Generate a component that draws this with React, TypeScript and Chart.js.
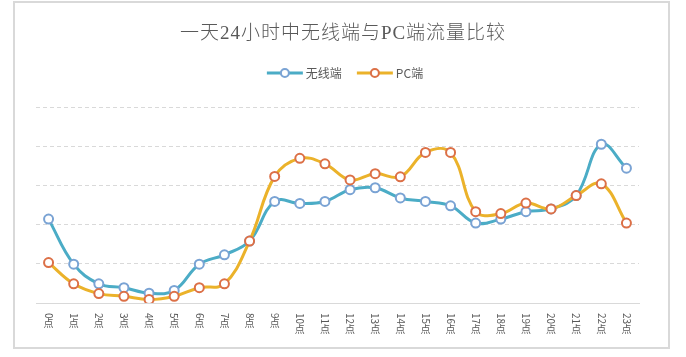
import React, { useEffect, useRef } from "react";
import { Chart, registerables } from "chart.js";

Chart.register(...registerables);

const categories = ["0点","1点","2点","3点","4点","5点","6点","7点","8点","9点","10点","11点","12点","13点","14点","15点","16点","17点","18点","19点","20点","21点","22点","23点"];
const wirelessValues = [2.14,0.99,0.49,0.39,0.25,0.32,0.99,1.23,1.58,2.59,2.54,2.59,2.89,2.94,2.68,2.59,2.48,2.04,2.14,2.33,2.4,2.74,4.05,3.44];
const pcValues = [1.03,0.49,0.24,0.17,0.09,0.17,0.39,0.49,1.58,3.23,3.69,3.55,3.14,3.3,3.22,3.84,3.84,2.33,2.28,2.55,2.4,2.74,3.04,2.04];
const seriesNames = ["无线端", "PC端"];
const titleText = "一天24小时中无线端与PC端流量比较";

const BLUE = "#4bacc6";
const BLUE_MARK = "#7aa3d4";
const GOLD = "#ebb22a";
const GOLD_MARK = "#dc7047";
const TEXT = "#595959";
const CJK = '"Noto Sans CJK SC", "Noto Sans", sans-serif';

const decorPlugin = {
  id: "decor",
  beforeDraw(chart: any) {
    const ctx = chart.ctx;
    ctx.save();
    ctx.fillStyle = "#ffffff";
    ctx.fillRect(0, 0, chart.width, chart.height);
    ctx.strokeStyle = "#d9d9d9";
    ctx.lineWidth = 2;
    ctx.strokeRect(14, 2, 655, 346);
    ctx.restore();
  },
  afterDraw(chart: any) {
    const ctx = chart.ctx;
    ctx.save();
    // title
    ctx.fillStyle = TEXT;
    ctx.font = '300 19px "Liberation Serif", "Noto Sans CJK SC", serif';
    try { (ctx as any).letterSpacing = "1px"; } catch (e) {}
    ctx.textAlign = "center";
    ctx.textBaseline = "middle";
    ctx.fillText(titleText, 343, 34);
    try { (ctx as any).letterSpacing = "0px"; } catch (e) {}

    // legend
    ctx.font = "12px " + CJK;
    const colors = [[BLUE, BLUE_MARK], [GOLD, GOLD_MARK]];
    const lineW = 36;
    const gapText = 3;
    const gapItem = 15;
    const widths = seriesNames.map((n) => ctx.measureText(n).width);
    const total = widths.reduce((a, w) => a + lineW + gapText + w, 0) + gapItem * (seriesNames.length - 1);
    let x = 345 - total / 2;
    const ly = 73;
    seriesNames.forEach((n, i) => {
      ctx.strokeStyle = colors[i][0];
      ctx.lineWidth = 3;
      ctx.beginPath();
      ctx.moveTo(x, ly);
      ctx.lineTo(x + lineW, ly);
      ctx.stroke();
      ctx.beginPath();
      ctx.arc(x + lineW / 2, ly, 4, 0, Math.PI * 2);
      ctx.fillStyle = "#fff";
      ctx.fill();
      ctx.strokeStyle = colors[i][1];
      ctx.lineWidth = 2;
      ctx.stroke();
      ctx.fillStyle = TEXT;
      ctx.textAlign = "left";
      ctx.textBaseline = "middle";
      ctx.fillText(n, x + lineW + gapText, ly);
      x += lineW + gapText + widths[i] + gapItem;
    });

    // x labels, vertical text: digits rotated, CJK upright
    const xs = chart.scales.x;
    const top = chart.chartArea.bottom + 10;
    ctx.fillStyle = TEXT;
    ctx.font = "10px " + CJK;
    categories.forEach((lab, i) => {
      const px = xs.getPixelForValue(i);
      const digits = lab.replace(/[^0-9]/g, "");
      const rest = lab.replace(/[0-9]/g, "");
      const dw = ctx.measureText(digits).width;
      ctx.save();
      ctx.translate(px, top);
      ctx.rotate(Math.PI / 2);
      ctx.textAlign = "left";
      ctx.textBaseline = "middle";
      ctx.fillText(digits, 0, 0);
      ctx.restore();
      ctx.textAlign = "center";
      ctx.textBaseline = "top";
      ctx.fillText(rest, px, top + dw);
    });
    ctx.restore();
  },
};

export default function App() {
  const ref = useRef<HTMLCanvasElement | null>(null);
  useEffect(() => {
    if (!ref.current) return;
    const chart = new Chart(ref.current, {
      type: "line",
      data: {
        labels: categories,
        datasets: [
          {
            label: seriesNames[0],
            data: wirelessValues,
            borderColor: BLUE,
            borderWidth: 3,
            tension: 0.4,
            pointRadius: 4.5,
            pointBorderWidth: 2,
            pointBorderColor: BLUE_MARK,
            pointBackgroundColor: "#ffffff",
            order: 1,
          },
          {
            label: seriesNames[1],
            data: pcValues,
            borderColor: GOLD,
            borderWidth: 3,
            tension: 0.4,
            pointRadius: 4.5,
            pointBorderWidth: 2,
            pointBorderColor: GOLD_MARK,
            pointBackgroundColor: "#ffffff",
            order: 0,
          },
        ],
      },
      options: {
        responsive: false,
        animation: false,
        layout: { padding: { left: 36, right: 47, top: 107, bottom: 54 } },
        plugins: { legend: { display: false }, title: { display: false }, tooltip: { enabled: false } },
        scales: {
          x: {
            offset: true,
            ticks: { display: false, padding: 0 },
            grid: { display: false, drawTicks: false },
            border: { display: true, color: "#d9d9d9", width: 1 },
          },
          y: {
            min: 0,
            max: 5,
            ticks: { display: false, stepSize: 1, padding: 0 },
            grid: { color: "#d9d9d9", drawTicks: false },
            border: { display: false, dash: [4, 3] },
          },
        },
      },
      plugins: [decorPlugin],
    });
    return () => chart.destroy();
  }, []);
  return (
    <div style={{ position: "fixed", left: 0, top: 0, width: 686, height: 357 }}>
      <canvas ref={ref} width={686} height={357} />
    </div>
  );
}
